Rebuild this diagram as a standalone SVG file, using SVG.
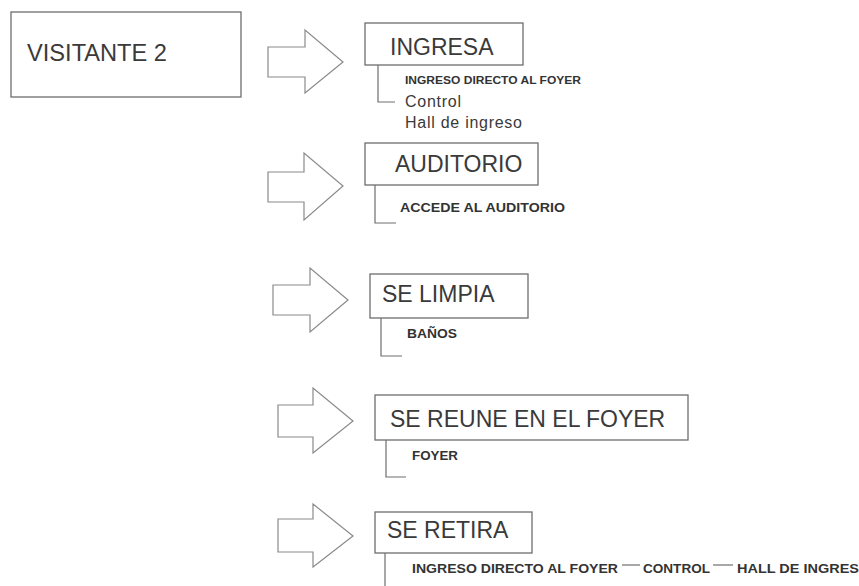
<svg xmlns="http://www.w3.org/2000/svg" width="859" height="586" viewBox="0 0 859 586">
<style>
.box{fill:#fff;stroke:#6e6e6e;stroke-width:1.3}
.arrow{fill:#fff;stroke:#8a8a8a;stroke-width:1.2;stroke-linejoin:miter}
.br{fill:none;stroke:#6e6e6e;stroke-width:1.2}
.t{font-family:"Liberation Sans",Arial,sans-serif;font-size:23px;fill:#3a3a3a}
.s{font-family:"Liberation Sans",Arial,sans-serif;font-size:16px;fill:#3a3a3a}
.b{font-family:"Liberation Sans",Arial,sans-serif;font-weight:bold;fill:#333}
</style>
<rect width="859" height="586" fill="#fff"/>
<g id="connectors">
<polygon class="arrow" points="268,47 305,47 305,30 343,62 305,93 305,77 268,77"/>
<polygon class="arrow" points="268,172 304,172 304,153 343,186 304,220 304,202 268,202"/>
<polygon class="arrow" points="273,285 310,285 310,268 348,300 310,332 310,315 273,315"/>
<polygon class="arrow" points="278,405 313,405 313,388 353,421 313,453 313,437 278,437"/>
<polygon class="arrow" points="278,519 313,519 313,504 353,536 313,567 313,552 278,552"/>
</g>
<g id="visitante">
<rect class="box" x="11" y="12" width="230" height="85"/>
<text class="t" x="27" y="61" textLength="140" lengthAdjust="spacingAndGlyphs">VISITANTE 2</text>
</g>
<g id="ingresa">
<rect class="box" x="365" y="23" width="158" height="42"/>
<text class="t" x="390" y="55">INGRESA</text>
<polyline class="br" points="378,65 378,102 395,102"/>
<text class="b" x="405" y="84" font-size="10.5" textLength="176" lengthAdjust="spacingAndGlyphs">INGRESO DIRECTO AL FOYER</text>
<text class="s" x="405" y="107" textLength="56" lengthAdjust="spacing">Control</text>
<text class="s" x="405" y="128" textLength="117" lengthAdjust="spacing">Hall de ingreso</text>
</g>
<g id="auditorio">
<rect class="box" x="365" y="143" width="173" height="42"/>
<text class="t" x="395" y="172">AUDITORIO</text>
<polyline class="br" points="375,185 375,223 396,223"/>
<text class="b" x="400" y="212" font-size="13" textLength="165" lengthAdjust="spacingAndGlyphs">ACCEDE AL AUDITORIO</text>
</g>
<g id="selimpia">
<rect class="box" x="370" y="274" width="158" height="44"/>
<text class="t" x="382" y="302">SE LIMPIA</text>
<polyline class="br" points="381,318 381,356 402,356"/>
<text class="b" x="407" y="338" font-size="12" textLength="50" lengthAdjust="spacingAndGlyphs">BAÑOS</text>
</g>
<g id="sereune">
<rect class="box" x="375" y="395" width="313" height="45"/>
<text class="t" x="390" y="427">SE REUNE EN EL FOYER</text>
<polyline class="br" points="386,440 386,477 406,477"/>
<text class="b" x="412" y="460" font-size="13" textLength="46" lengthAdjust="spacingAndGlyphs">FOYER</text>
</g>
<g id="seretira">
<rect class="box" x="375" y="512" width="157" height="41"/>
<text class="t" x="387" y="538">SE RETIRA</text>
<line class="br" x1="385" y1="553" x2="385" y2="586"/>
<text class="b" x="412" y="573" font-size="13" textLength="206" lengthAdjust="spacingAndGlyphs">INGRESO DIRECTO AL FOYER</text>
<line class="br" x1="622" y1="565" x2="640" y2="565"/>
<text class="b" x="643" y="573" font-size="13" textLength="67" lengthAdjust="spacingAndGlyphs">CONTROL</text>
<line class="br" x1="713" y1="565" x2="733" y2="565"/>
<text class="b" x="737" y="573" font-size="13" textLength="122" lengthAdjust="spacingAndGlyphs">HALL DE INGRES</text>
</g>
</svg>
